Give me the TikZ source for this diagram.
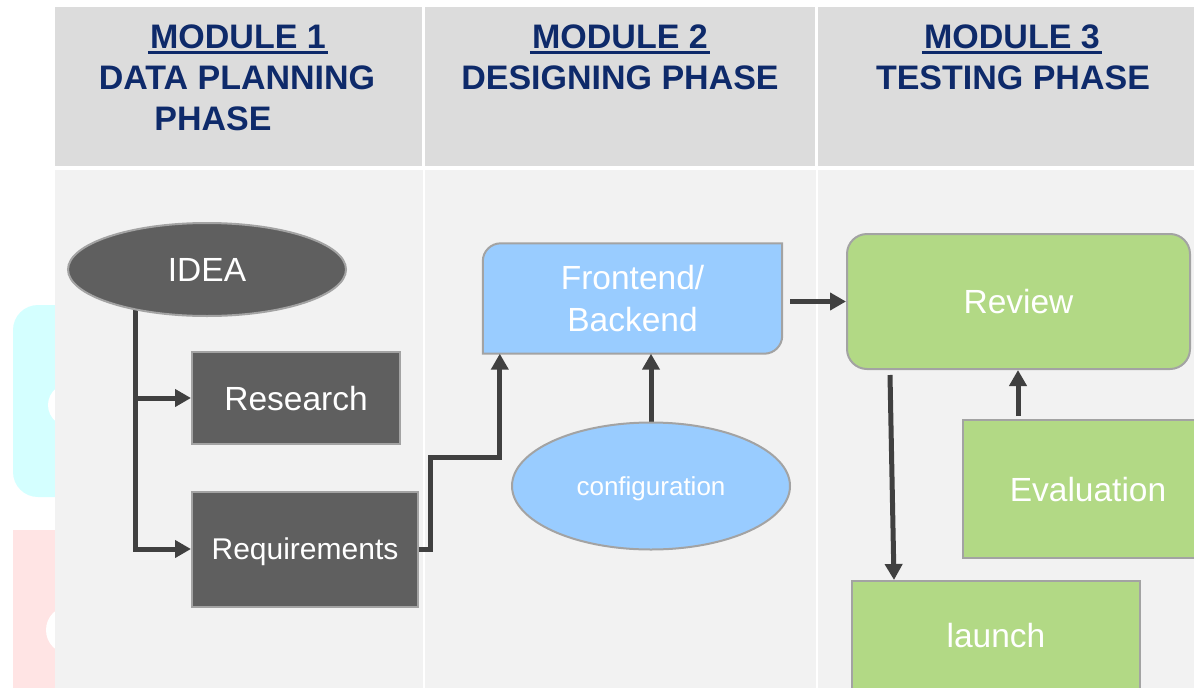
\documentclass[tikz,border=0pt]{standalone}
\usepackage{fontspec}
\setmainfont{Liberation Sans}
\usetikzlibrary{shapes.geometric,arrows.meta,calc}
\pgfdeclarelayer{bg}
\pgfdeclarelayer{lines}
\pgfsetlayers{bg,lines,main}
\definecolor{navy}{HTML}{0E2A6A}
\definecolor{hdrgray}{HTML}{DCDCDC}
\definecolor{bodygray}{HTML}{F2F2F2}
\definecolor{darkfill}{HTML}{5F5F5F}
\definecolor{bordergray}{HTML}{A3A3A3}
\definecolor{linegray}{HTML}{404040}
\definecolor{bluefill}{HTML}{99CCFF}
\definecolor{greenfill}{HTML}{B2D985}
\definecolor{cyanish}{HTML}{D4FFFF}
\definecolor{pinkish}{HTML}{FFE4E4}
\begin{document}
\begin{tikzpicture}[x=1pt,y=-1pt,
  hdr/.style={inner sep=0pt, text=navy, font=\fontsize{34}{40}\selectfont\bfseries},
  shapebase/.style={draw=bordergray, line width=2pt, text=white, inner sep=0pt,
     font=\fontsize{33.5}{40}\selectfont, text height=24pt, text depth=0pt},
  darkbox/.style={shapebase, fill=darkfill},
  bluebox/.style={shapebase, fill=bluefill},
  greenbox/.style={shapebase, fill=greenfill},
  arr/.style={draw=linegray, line width=5pt, -{Triangle[length=16pt,width=17pt]}}]
\useasboundingbox (0,0) rectangle (1194,688);
\clip (0,0) rectangle (1194,688);

\begin{pgfonlayer}{bg}
  \fill[white] (0,0) rectangle (1194,688);
  % faint shapes behind the table at the left edge
  \fill[cyanish, rounded corners=25pt] (13,305) rectangle (90,497);
  \fill[white] (76,405) ellipse [x radius=28, y radius=24];
  \fill[pinkish] (13,530) rectangle (90,688);
  \fill[white] (70,630) ellipse [x radius=24, y radius=24];
  % table
  \fill[hdrgray] (55,7) rectangle (1194,166);
  \fill[bodygray] (55,170) rectangle (1194,688);
  \fill[white] (422,7) rectangle (425,166);
  \fill[white] (815,7) rectangle (818,166);
  \fill[white] (422.5,170) rectangle (424.5,688);
  \fill[white] (815.5,170) rectangle (817.5,688);
\end{pgfonlayer}

% headers
\node[hdr, anchor=base] (m1) at (238,48) {MODULE 1};
\node[hdr, anchor=base] (m1a) at (237,89) {DATA PLANNING};
\node[hdr, anchor=base] (m1b) at (213,130) {PHASE};
\node[hdr, anchor=base] (m2) at (620,48) {MODULE 2};
\node[hdr, anchor=base] (m2a) at (620,89) {DESIGNING PHASE};
\node[hdr, anchor=base] (m3) at (1012,48) {MODULE 3};
\node[hdr, anchor=base] (m3a) at (1013,89) {TESTING PHASE};
\foreach \m in {m1,m2,m3}{
  \draw[navy, line width=2.6pt] ([xshift=-2pt,yshift=-4.5pt]\m.base west) -- ([xshift=2pt,yshift=-4.5pt]\m.base east);
}

% module 1
\node[darkbox, ellipse, minimum width=278, minimum height=93] (idea) at (207,269.5) {IDEA};
\node[darkbox, rectangle, minimum width=208, minimum height=92] (res) at (296,398) {Research};
\node[darkbox, rectangle, minimum width=226, minimum height=115,
      font=\fontsize{30}{36}\selectfont, text height=21.6pt] (req) at (305,549) {Requirements};

% module 2
\node[text=white, align=center, inner sep=0pt, minimum width=299, minimum height=110,
      font=\fontsize{33.5}{42}\selectfont] (fb) at (632.5,298.5) {Frontend/\\Backend};
\begin{pgfonlayer}{bg}
  \draw[draw=bordergray, line width=2pt, fill=bluefill]
    (fb.south west) -- ($(fb.north west)+(0,18)$)
    .. controls ($(fb.north west)+(0,8)$) and ($(fb.north west)+(8,0)$) .. ($(fb.north west)+(18,0)$)
    -- (fb.north east) -- ($(fb.south east)+(0,-18)$)
    .. controls ($(fb.south east)+(0,-8)$) and ($(fb.south east)+(-8,0)$) .. ($(fb.south east)+(-18,0)$)
    -- cycle;
\end{pgfonlayer}
\node[bluebox, ellipse, minimum width=278, minimum height=127,
      font=\fontsize{26}{30}\selectfont, text height=18.7pt] (cfg) at (651,486) {configuration};

% module 3
\node[greenbox, rounded corners=20pt, minimum width=343, minimum height=135] (rev) at (1018.5,301.5) {Review};
\node[greenbox, minimum width=250, minimum height=138] (eval) at (1088,489) {Evaluation};
\node[greenbox, minimum width=288, minimum height=108] (launch) at (996,635) {launch};

% connectors
\coordinate (jx) at (135,0);
\coordinate (bend) at (430,457);
\begin{pgfonlayer}{lines}
  \draw[arr] (idea.center -| jx) |- (res.west);
  \draw[arr] (idea.center -| jx) |- (req.west);
  \draw[arr] (req.east) -| (bend) -| ($(fb.south west)+(17,0)$);
  \draw[arr] (cfg.north) -- (cfg.north |- fb.south);
  \draw[arr] (rev.west -| fb.east) ++(8,0) -- (rev.west);
  \draw[arr] ($(rev.south west)+(44,5)$) -- ($(launch.north west)+(43,0)$);
  \coordinate (e1) at ($(eval.north west)+(56,-3)$);
  \draw[arr] (e1) -- (e1 |- rev.south);
\end{pgfonlayer}
\end{tikzpicture}
\end{document}
